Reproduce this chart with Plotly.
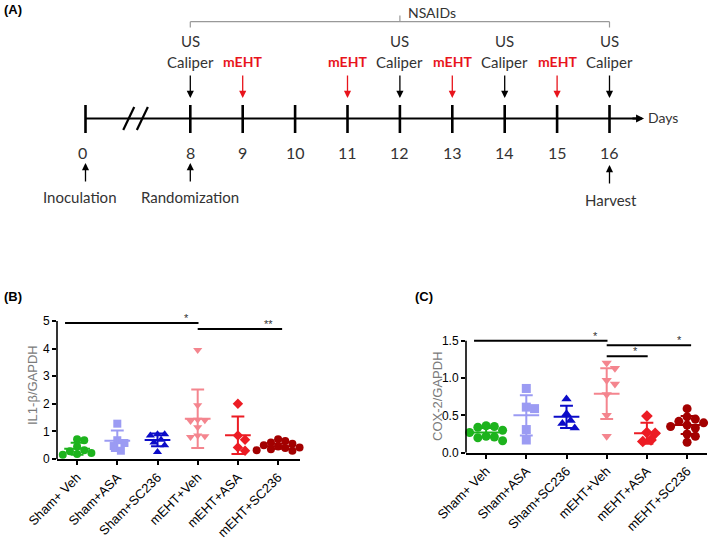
import plotly.graph_objects as go

# ---------------- data ----------------
groups = ["Sham+ Veh", "Sham+ASA", "Sham+SC236", "mEHT+Veh", "mEHT+ASA", "mEHT+SC236"]
colors = ["#1db31d", "#9b9bf3", "#0c0cc8", "#f4858e", "#ec1c24", "#a30000"]
symbols = ["circle", "square", "triangle-up", "triangle-down", "diamond", "circle"]

# IL1-beta / GAPDH (panel B)
il1b_sham_veh = [0.72, 0.68, 0.45, 0.32, 0.28, 0.22, 0.18, 0.15]
il1b_sham_asa = [1.28, 0.68, 0.58, 0.47, 0.30]
il1b_sham_sc236 = [0.90, 0.90, 0.85, 0.70, 0.60, 0.50, 0.25]
il1b_meht_veh = [3.95, 1.95, 1.42, 1.40, 1.38, 1.15, 0.85, 0.82, 0.80]
il1b_meht_asa = [2.00, 0.85, 0.70, 0.42, 0.30]
il1b_meht_sc236 = [0.72, 0.65, 0.60, 0.55, 0.50, 0.45, 0.42, 0.40, 0.35, 0.32, 0.30, 0.28]
il1b_mean = [0.37, 0.66, 0.69, 1.46, 0.86, 0.46]
il1b_sd = [0.22, 0.37, 0.23, 1.06, 0.68, 0.09]

# COX-2 / GAPDH (panel C)
cox2_sham_veh = [0.36, 0.35, 0.34, 0.30, 0.27, 0.22, 0.21, 0.20, 0.16]
cox2_sham_asa = [0.86, 0.61, 0.59, 0.31, 0.17]
cox2_sham_sc236 = [0.72, 0.52, 0.43, 0.39, 0.33]
cox2_meht_veh = [1.20, 1.13, 0.97, 0.92, 0.78, 0.50, 0.22]
cox2_meht_asa = [0.49, 0.27, 0.26, 0.17, 0.15]
cox2_meht_sc236 = [0.59, 0.48, 0.45, 0.42, 0.40, 0.37, 0.35, 0.33, 0.25, 0.22, 0.14]
cox2_mean = [0.27, 0.50, 0.48, 0.79, 0.26, 0.37]
cox2_sd = [0.06, 0.27, 0.15, 0.34, 0.14, 0.12]

# significance brackets
il1b_sig_from = [0, 3]
il1b_sig_to = [3, 5]
il1b_sig_level = [4.93, 4.71]
il1b_sig_text = ["*", "**"]
cox2_sig_from = [0, 3, 3]
cox2_sig_to = [3, 5, 4]
cox2_sig_level = [1.50, 1.44, 1.29]
cox2_sig_text = ["*", "*", "*"]

# timeline (panel A)
days = [0, 8, 9, 10, 11, 12, 13, 14, 15, 16]
us_caliper_days = [8, 12, 14, 16]
meht_days = [9, 11, 13, 15]
nsaid_days = [8, 16]
bottom_event_days = [0, 8, 16]
bottom_event_labels = ["Inoculation", "Randomization", "Harvest"]

il1b_groups = [il1b_sham_veh, il1b_sham_asa, il1b_sham_sc236, il1b_meht_veh, il1b_meht_asa, il1b_meht_sc236]
cox2_groups = [cox2_sham_veh, cox2_sham_asa, cox2_sham_sc236, cox2_meht_veh, cox2_meht_asa, cox2_meht_sc236]

W, H = 709, 538
AX_FONT = "Liberation Sans, Arial, sans-serif"
TL_FONT = "Lato, Open Sans, sans-serif"


def py(px):  # pixel row -> paper fraction
    return 1 - px / H


def swarm(vals, ypx_per_unit, xpx_per_unit, d):
    placed, offs = [], []
    step = d * 0.55
    cands = [0.0]
    for i in range(1, 40):
        cands += [i * step, -i * step]
    for v in vals:
        yv = v * ypx_per_unit
        for c in cands:
            if all((c - a) ** 2 + (yv - b) ** 2 >= d * d for a, b in placed):
                break
        placed.append((c, yv))
        offs.append(c / xpx_per_unit)
    return offs


fig = go.Figure()
shapes = []
annotations = []


def panel(xa, ya, data, means, sds, ypx, xpx, msize, dsep,
          sig_from, sig_to, sig_level, sig_text, star_dy, ymax_line):
    for i, vals in enumerate(data):
        offs = swarm(vals, ypx, xpx, dsep)
        fig.add_trace(go.Scatter(
            x=[i + o for o in offs], y=vals, mode="markers", xaxis=xa, yaxis=ya,
            marker=dict(symbol=symbols[i], color=colors[i], size=msize, line=dict(width=0)),
            cliponaxis=False, showlegend=False, hoverinfo="skip"))
        m, s = means[i], sds[i]
        lx, ly = [], []
        lx += [i - 0.32, i + 0.32, None]; ly += [m, m, None]
        lx += [i, i, None]; ly += [m - s, m + s, None]
        lx += [i - 0.16, i + 0.16, None]; ly += [m + s, m + s, None]
        lx += [i - 0.16, i + 0.16]; ly += [m - s, m - s]
        fig.add_trace(go.Scatter(
            x=lx, y=ly, mode="lines", xaxis=xa, yaxis=ya,
            line=dict(color=colors[i], width=2), showlegend=False, hoverinfo="skip"))
    xr = "x" if xa == "x" else xa
    yr = "y" if ya == "y" else ya
    for f, t, lv, tx in zip(sig_from, sig_to, sig_level, sig_text):
        x0 = f - 0.3 if f == 0 else f
        x1 = t + 0.1 if t == 5 else t + 0.02
        shapes.append(dict(type="line", xref=xr, yref=yr, x0=x0, x1=x1, y0=lv, y1=lv,
                           line=dict(color="black", width=2)))
        annotations.append(dict(xref=xr, yref=yr, x=x1 - 0.18, y=lv + star_dy, text=tx,
                                showarrow=False, xanchor="right", yanchor="middle",
                                font=dict(family=AX_FONT, size=11, color="#333")))
    shapes.append(dict(type="line", xref=xr + " domain", yref=yr, x0=0, x1=0, y0=0, y1=ymax_line,
                       line=dict(color="black", width=1.6)))


# Panel B geometry
B_y0, B_ppu = 459.0, 27.6
B_x_left, B_x_right = 57.0, 300.0
B_xppu = 40.2
B_ytop = 5.35
panel("x", "y", il1b_groups, il1b_mean, il1b_sd, B_ppu, B_xppu, 8, 6.5,
      il1b_sig_from, il1b_sig_to, il1b_sig_level, il1b_sig_text, 0.17, 5)

# Panel C geometry
C_y0, C_ppu = 452.7, 74.7
C_x_left, C_x_right = 466.0, 707.0
C_xppu = 40.2
C_ytop = 1.65
panel("x2", "y2", cox2_groups, cox2_mean, cox2_sd, C_ppu, C_xppu, 9, 7.5,
      cox2_sig_from, cox2_sig_to, cox2_sig_level, cox2_sig_text, 0.065, 1.5)

axis_common = dict(showgrid=False, zeroline=False, ticks="outside", ticklen=4,
                   tickwidth=1.5, tickcolor="black", color="black", automargin=False)
xfont = dict(family=AX_FONT, size=13, color="black")
yfont = dict(family=AX_FONT, size=12, color="black")

fig.update_layout(
    xaxis=dict(domain=[B_x_left / W, B_x_right / W], range=[-0.5, (B_x_right - B_x_left) / B_xppu - 0.5],
               tickvals=list(range(6)), ticktext=groups, tickangle=-45, tickfont=xfont,
               showline=True, linecolor="black", linewidth=1.6, anchor="y", **axis_common),
    yaxis=dict(domain=[py(B_y0), py(B_y0 - B_ytop * B_ppu)], range=[0, B_ytop], tickfont=yfont,
               tickvals=[0, 1, 2, 3, 4, 5], showline=False, anchor="x", **axis_common),
    xaxis2=dict(domain=[C_x_left / W, C_x_right / W], range=[-0.5, (C_x_right - C_x_left) / C_xppu - 0.5],
                tickvals=list(range(6)), ticktext=groups, tickangle=-45, tickfont=xfont,
                showline=True, linecolor="black", linewidth=1.6, anchor="y2", **axis_common),
    yaxis2=dict(domain=[py(C_y0), py(C_y0 - C_ytop * C_ppu)], range=[0, C_ytop], tickfont=yfont,
                tickvals=[0, 0.5, 1.0, 1.5], ticktext=["0.0", "0.5", "1.0", "1.5"],
                showline=False, anchor="x2", **axis_common),
)

annotations.append(dict(xref="paper", yref="paper", x=32 / W, y=py(385), text="IL1-β/GAPDH",
                        textangle=-90, showarrow=False, xanchor="center", yanchor="middle",
                        font=dict(family=AX_FONT, size=13, color="#7a7a7a")))
annotations.append(dict(xref="paper", yref="paper", x=437 / W, y=py(396), text="COX-2/GAPDH",
                        textangle=-90, showarrow=False, xanchor="center", yanchor="middle",
                        font=dict(family=AX_FONT, size=13, color="#7a7a7a")))
for lab, xp, yp in [("(A)", 2, 10), ("(B)", 2, 297), ("(C)", 413, 297)]:
    annotations.append(dict(xref="paper", yref="paper", x=xp / W, y=py(yp), text="<b>%s</b>" % lab,
                            xanchor="left", yanchor="middle", showarrow=False,
                            font=dict(family=AX_FONT, size=13, color="black")))

# ---------------- Panel A: timeline ----------------
A_origin, A_ppu = 85.5, 52.4
A_h = 235.0


def pos(d):
    return d if d == 0 else d - 6


fig.update_layout(
    xaxis3=dict(domain=[0, 1], range=[-A_origin / A_ppu, (W - A_origin) / A_ppu], visible=False,
                anchor="y3", fixedrange=True, automargin=False),
    yaxis3=dict(domain=[py(A_h), 1], range=[A_h, 0], visible=False, anchor="x3", fixedrange=True,
                automargin=False),
)

LINE_Y = 118.5
tl_end = pos(days[-1]) + 0.66
shapes.append(dict(type="line", xref="x3", yref="y3", x0=pos(days[0]), x1=tl_end - 0.1,
                   y0=LINE_Y, y1=LINE_Y, line=dict(color="black", width=2.2)))
annotations.append(dict(xref="x3", yref="y3", axref="x3", ayref="y3", x=tl_end, y=LINE_Y,
                        ax=tl_end - 0.25, ay=LINE_Y, text="", showarrow=True,
                        arrowhead=2, arrowsize=0.8, arrowwidth=2, arrowcolor="black"))
annotations.append(dict(xref="x3", yref="y3", x=tl_end + 0.03, y=LINE_Y - 1, text="Days",
                        xanchor="left", yanchor="middle", showarrow=False,
                        font=dict(family=TL_FONT, size=14, color="#333")))

brk = (pos(days[0]) + pos(days[1])) / 2
for off in (-0.28, -0.02):
    shapes.append(dict(type="line", xref="x3", yref="y3", x0=brk + off, x1=brk + off + 0.21,
                       y0=130, y1=107, line=dict(color="black", width=2.2)))

for d in days:
    shapes.append(dict(type="line", xref="x3", yref="y3", x0=pos(d), x1=pos(d), y0=105, y1=133,
                       line=dict(color="black", width=2.6)))
    annotations.append(dict(xref="x3", yref="y3", x=pos(d) - (0.05 if d == 0 else 0), y=152, text=str(d),
                            xanchor="center", yanchor="middle", showarrow=False,
                            font=dict(family=TL_FONT, size=16, color="#333")))


def arrow(d, y_head, y_tail, color):
    annotations.append(dict(xref="x3", yref="y3", axref="x3", ayref="y3", x=pos(d), y=y_head,
                            ax=pos(d), ay=y_tail, text="", showarrow=True, arrowhead=2,
                            arrowsize=1.1, arrowwidth=1.3, arrowcolor=color))


def label(x, y, text, size, color, anchor="center"):
    annotations.append(dict(xref="x3", yref="y3", x=x, y=y, text=text, showarrow=False,
                            xanchor=anchor, yanchor="middle",
                            font=dict(family=TL_FONT, size=size, color=color)))


for d in us_caliper_days:
    arrow(d, 98, 74, "black")
    label(pos(d), 41, "US", 15, "#333")
    label(pos(d), 61.5, "Caliper", 15, "#333")
for d in meht_days:
    arrow(d, 98, 74, "#e8141c")
    label(pos(d), 61, "<b>mEHT</b>", 14, "#e8141c")

for d, lab in zip(bottom_event_days, bottom_event_labels):
    top = 165 if d == days[-1] else 163
    arrow(d, top, top + 20, "black")
    label(pos(d) + (0.03 if d == days[-1] else -0.11 if d == 0 else 0),
          200 if d == days[-1] else 197, lab, 15, "#333")

n0, n1 = pos(nsaid_days[0]), pos(nsaid_days[1])
nm = (n0 + n1) / 2
br = dict(color="#999999", width=1.2)
shapes.append(dict(type="line", xref="x3", yref="y3", x0=n0, x1=n1, y0=21.7, y1=21.7, line=br))
shapes.append(dict(type="line", xref="x3", yref="y3", x0=n0, x1=n0, y0=21.7, y1=27.5, line=br))
shapes.append(dict(type="line", xref="x3", yref="y3", x0=n1, x1=n1, y0=21.7, y1=27.5, line=br))
shapes.append(dict(type="line", xref="x3", yref="y3", x0=nm, x1=nm, y0=21.7, y1=15.5, line=br))
label(nm + 0.12, 12, "NSAIDs", 14, "#333", anchor="left")

fig.update_layout(
    width=W, height=H, margin=dict(l=0, r=0, t=0, b=0, autoexpand=False),
    paper_bgcolor="white", plot_bgcolor="rgba(0,0,0,0)",
    shapes=shapes, annotations=annotations, showlegend=False,
)

fig.write_html("out.html", config={"displayModeBar": False},
               post_script="document.body.style.margin='0';document.body.style.overflow='hidden';")
